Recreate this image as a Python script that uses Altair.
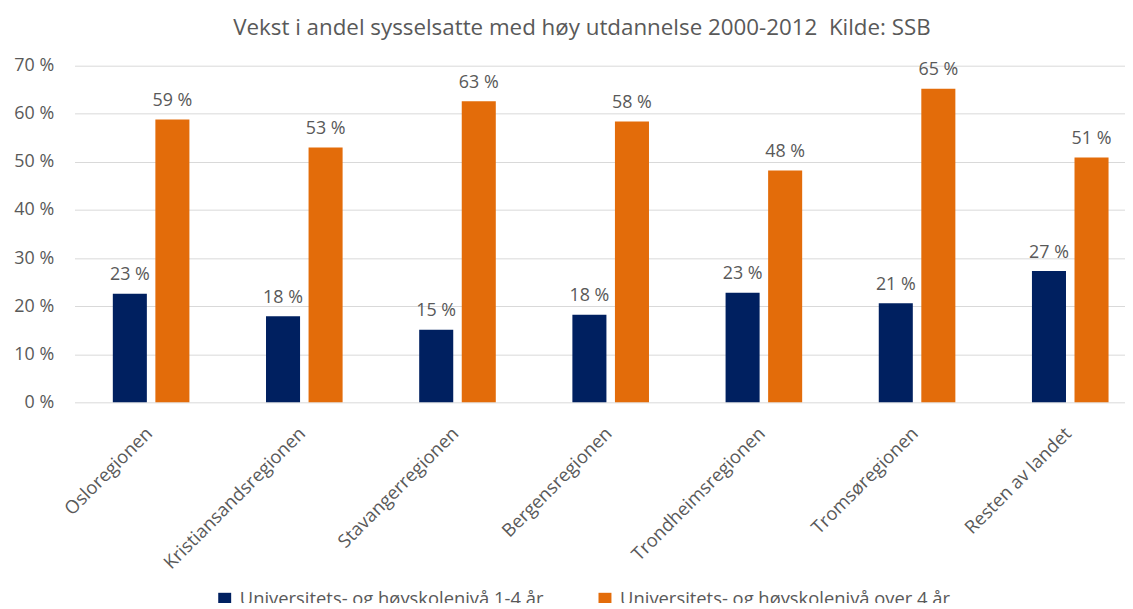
import altair as alt
import pandas as pd

regions = ["Osloregionen", "Kristiansandsregionen", "Stavangerregionen", "Bergensregionen",
           "Trondheimsregionen", "Tromsøregionen", "Resten av landet"]
series = ["Universitets- og høyskolenivå 1-4 år", "Universitets- og høyskolenivå over 4 år"]
short_values = [22.6, 17.9, 15.1, 18.2, 22.8, 20.6, 27.3]
long_values = [58.8, 53.0, 62.6, 58.4, 48.2, 65.2, 50.9]
y_ticks = [0, 10, 20, 30, 40, 50, 60, 70]
colors = ["#002060", "#E36C0A"]

rows = []
for r, a, b in zip(regions, short_values, long_values):
    rows.append({"region": r, "serie": series[0], "value": a})
    rows.append({"region": r, "serie": series[1], "value": b})
df = pd.DataFrame(rows)

FONT = "Open Sans"
GREY = "#595959"

x = alt.X("region:N", sort=regions, title=None,
          scale=alt.Scale(paddingInner=0.5, paddingOuter=0.25),
          axis=alt.Axis(labelAngle=-45, labelAlign="right", labelBaseline="middle",
                        labelPadding=28, labelOffset=-2, labelFontSize=18.5, labelColor=GREY,
                        labelFont=FONT, labelLimit=400,
                        ticks=False, domain=False, grid=False))
xoff = alt.XOffset("serie:N", sort=series, scale=alt.Scale(paddingInner=0.2))
y = alt.Y("value:Q", title=None,
          scale=alt.Scale(domain=[0, 70], nice=False),
          axis=alt.Axis(values=y_ticks, labelExpr="datum.value + ' %'", labelFontSize=18,
                        labelColor=GREY, labelFont=FONT, labelPadding=21, ticks=False,
                        domain=False, gridColor="#D9D9D9", gridWidth=1))

base = alt.Chart(df)
bars = base.mark_bar().encode(
    x=x, xOffset=xoff, y=y,
    color=alt.Color("serie:N", sort=series, title=None,
                    scale=alt.Scale(domain=series, range=colors),
                    legend=alt.Legend(orient="none", legendX=142, legendY=528, direction="horizontal",
                                      symbolType="square", symbolSize=170, symbolStrokeWidth=0,
                                      labelFontSize=18.5, labelColor=GREY, labelFont=FONT,
                                      labelLimit=600, columnPadding=52, labelOffset=6, padding=0))
)
labels = base.transform_calculate(
    label="format(datum.value, '.0f') + ' %'"
).mark_text(baseline="alphabetic", dy=-13.6, fontSize=18, font=FONT, color=GREY).encode(
    x=x, xOffset=xoff, y=y, text="label:N"
)

chart = alt.layer(bars, labels).properties(
    width=1080, height=339,
    title=alt.TitleParams("Vekst i andel sysselsatte med høy utdannelse 2000-2012\u00a0 Kilde: SSB",
                          fontSize=22.5, font=FONT, color=GREY, fontWeight="normal",
                          anchor="middle", dx=-29, offset=17),
    autosize=alt.AutoSizeParams(type="none"),
    padding={"left": 67, "top": 56, "right": -22, "bottom": 200},
).configure_view(stroke=None)

chart.save("out.html", embed_options={"renderer": "svg", "actions": False})
